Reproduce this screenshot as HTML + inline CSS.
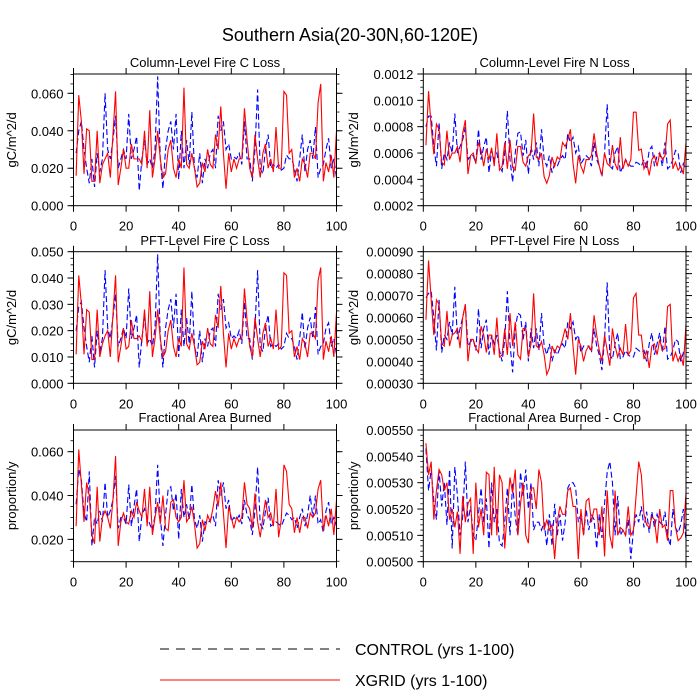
<!DOCTYPE html>
<html><head><meta charset="utf-8"><style>
body{margin:0;background:#fff}
svg{display:block;font-family:"Liberation Sans",sans-serif}
</style></head><body>
<svg id="chart" width="700" height="700" viewBox="0 0 700 700">
<text x="350" y="41" font-size="18" text-anchor="middle">Southern Asia(20-30N,60-120E)</text>
<g>
<line x1="160" y1="649" x2="340" y2="649" stroke="#000" stroke-width="1" stroke-dasharray="9,7"/>
<text x="355" y="655" font-size="16">CONTROL (yrs 1-100)</text>
<line x1="160" y1="680" x2="340" y2="680" stroke="#f00" stroke-width="1"/>
<text x="355" y="686" font-size="16">XGRID (yrs 1-100)</text>
</g>
</svg>
<script>
const years = [1,2,3,4,5,6,7,8,9,10,11,12,13,14,15,16,17,18,19,20,21,22,23,24,25,26,27,28,29,30,31,32,33,34,35,36,37,38,39,40,41,42,43,44,45,46,47,48,49,50,51,52,53,54,55,56,57,58,59,60,61,62,63,64,65,66,67,68,69,70,71,72,73,74,75,76,77,78,79,80,81,82,83,84,85,86,87,88,89,90,91,92,93,94,95,96,97,98,99,100];
const xTicks = [0,20,40,60,80,100];

const colCxgrid = [.016,.059,.045,.017,.041,.040,.013,.013,.040,.012,.022,.025,.028,.015,.038,.061,.011,.020,.030,.020,.020,.033,.025,.025,.025,.022,.040,.020,.051,.015,.025,.040,.025,.015,.017,.030,.035,.020,.015,.025,.020,.063,.022,.020,.028,.020,.010,.012,.023,.018,.030,.022,.020,.038,.030,.053,.028,.009,.028,.018,.025,.020,.025,.025,.052,.035,.020,.015,.038,.025,.015,.028,.033,.020,.025,.018,.042,.020,.020,.061,.059,.028,.030,.015,.020,.013,.025,.022,.015,.028,.028,.025,.055,.065,.013,.023,.018,.027,.015,.040];
const colCcontrol = [.028,.040,.045,.030,.020,.012,.025,.010,.028,.018,.025,.060,.030,.025,.035,.048,.020,.025,.030,.025,.049,.025,.030,.037,.008,.025,.035,.022,.025,.020,.030,.069,.025,.009,.030,.040,.045,.030,.049,.014,.040,.020,.035,.022,.050,.020,.015,.028,.012,.025,.020,.028,.030,.020,.048,.040,.045,.030,.033,.025,.026,.025,.028,.022,.045,.025,.025,.013,.030,.062,.020,.017,.030,.038,.020,.022,.020,.022,.019,.020,.027,.025,.025,.020,.013,.025,.038,.018,.030,.035,.025,.042,.015,.020,.022,.030,.036,.020,.025,.015];
const colNxgrid = [.00066,.00107,.00080,.00059,.00082,.00078,.00053,.00051,.00077,.00055,.00060,.00060,.00065,.00053,.00075,.00085,.00044,.00058,.00060,.00052,.00068,.00062,.00050,.00063,.00055,.00064,.00050,.00075,.00047,.00050,.00068,.00048,.00070,.00049,.00047,.00065,.00065,.00053,.00050,.00058,.00060,.00090,.00057,.00055,.00060,.00042,.00037,.00043,.00057,.00050,.00057,.00055,.00068,.00065,.00070,.00078,.00052,.00037,.00058,.00050,.00045,.00055,.00055,.00058,.00075,.00060,.00050,.00043,.00060,.00052,.00050,.00066,.00052,.00047,.00072,.00048,.00055,.00050,.00055,.00091,.00091,.00062,.00063,.00048,.00053,.00043,.00055,.00058,.00050,.00060,.00055,.00058,.00082,.00085,.00048,.00053,.00047,.00050,.00044,.00068];
const colNcontrol = [.00080,.00088,.00088,.00065,.00050,.00083,.00048,.00060,.00055,.00068,.00060,.00090,.00060,.00065,.00070,.00080,.00055,.00058,.00058,.00052,.00078,.00055,.00065,.00072,.00045,.00062,.00055,.00060,.00050,.00046,.00060,.00092,.00055,.00038,.00060,.00075,.00076,.00058,.00070,.00044,.00065,.00055,.00068,.00050,.00078,.00055,.00050,.00058,.00045,.00052,.00050,.00055,.00058,.00055,.00075,.00068,.00072,.00060,.00065,.00052,.00055,.00058,.00056,.00050,.00068,.00055,.00050,.00042,.00060,.00097,.00050,.00048,.00060,.00065,.00045,.00050,.00055,.00052,.00050,.00050,.00053,.00052,.00050,.00055,.00048,.00062,.00065,.00050,.00058,.00060,.00050,.00068,.00048,.00050,.00055,.00062,.00060,.00045,.00052,.00048];
const pftCxgrid = [.011,.041,.030,.011,.028,.027,.009,.009,.028,.010,.015,.018,.020,.010,.026,.041,.008,.014,.021,.013,.014,.024,.017,.017,.018,.016,.028,.014,.035,.010,.017,.028,.017,.010,.012,.020,.024,.014,.010,.017,.014,.044,.015,.013,.019,.014,.007,.008,.016,.013,.021,.015,.014,.026,.021,.037,.019,.006,.019,.013,.017,.014,.017,.017,.036,.024,.014,.010,.025,.017,.010,.019,.023,.014,.017,.013,.028,.013,.014,.042,.041,.019,.020,.010,.014,.009,.017,.015,.010,.019,.019,.017,.039,.044,.009,.016,.012,.018,.010,.027];
const pftCcontrol = [.020,.029,.031,.021,.014,.008,.018,.006,.020,.012,.017,.043,.021,.017,.025,.034,.014,.017,.021,.017,.036,.017,.021,.026,.006,.017,.025,.015,.017,.014,.021,.049,.017,.006,.021,.028,.032,.021,.034,.010,.028,.014,.025,.015,.035,.014,.010,.020,.008,.017,.014,.020,.021,.014,.034,.028,.032,.021,.023,.017,.018,.017,.020,.015,.031,.017,.017,.009,.021,.043,.014,.012,.021,.026,.014,.015,.014,.015,.013,.014,.019,.017,.017,.014,.009,.017,.027,.013,.021,.025,.017,.029,.011,.014,.015,.021,.023,.014,.017,.011];
const pftNxgrid = [.00059,.00086,.00068,.00052,.00068,.00066,.00048,.00047,.00063,.00047,.00052,.00053,.00055,.00046,.00060,.00066,.00040,.00050,.00050,.00046,.00044,.00056,.00052,.00044,.00052,.00052,.00043,.00060,.00042,.00043,.00055,.00043,.00062,.00047,.00058,.00043,.00041,.00055,.00055,.00042,.00048,.00071,.00047,.00046,.00049,.00043,.00034,.00037,.00047,.00044,.00047,.00046,.00050,.00055,.00050,.00062,.00047,.00034,.00050,.00047,.00040,.00045,.00047,.00045,.00061,.00052,.00045,.00040,.00052,.00045,.00038,.00055,.00047,.00042,.00046,.00043,.00057,.00043,.00045,.00069,.00071,.00052,.00052,.00041,.00045,.00037,.00047,.00048,.00043,.00050,.00045,.00046,.00065,.00066,.00040,.00044,.00040,.00043,.00038,.00057];
const pftNcontrol = [.00069,.00071,.00072,.00060,.00045,.00068,.00044,.00052,.00050,.00058,.00052,.00074,.00050,.00055,.00060,.00066,.00047,.00049,.00050,.00045,.00064,.00046,.00055,.00059,.00043,.00052,.00048,.00052,.00045,.00040,.00050,.00072,.00048,.00035,.00055,.00062,.00061,.00050,.00058,.00040,.00055,.00046,.00055,.00045,.00062,.00047,.00043,.00048,.00040,.00045,.00043,.00046,.00048,.00046,.00058,.00055,.00058,.00050,.00052,.00044,.00047,.00047,.00047,.00044,.00055,.00047,.00043,.00036,.00050,.00076,.00043,.00041,.00048,.00053,.00041,.00042,.00045,.00043,.00042,.00042,.00046,.00045,.00044,.00045,.00040,.00048,.00053,.00043,.00048,.00053,.00044,.00056,.00041,.00042,.00045,.00050,.00049,.00040,.00044,.00042];
const areaXgrid = [.026,.061,.045,.028,.046,.040,.022,.018,.044,.019,.030,.033,.030,.025,.038,.058,.017,.028,.032,.028,.027,.033,.030,.037,.033,.030,.043,.026,.044,.022,.030,.037,.027,.040,.025,.024,.037,.038,.030,.028,.030,.047,.028,.030,.035,.027,.016,.018,.029,.024,.031,.028,.034,.042,.035,.046,.032,.016,.035,.030,.025,.030,.028,.030,.046,.036,.034,.025,.041,.028,.021,.030,.038,.030,.032,.026,.043,.021,.029,.054,.051,.036,.034,.023,.030,.023,.030,.030,.025,.032,.030,.032,.043,.047,.024,.031,.026,.034,.022,.038];
const areaControl = [.036,.052,.047,.032,.028,.051,.017,.030,.027,.033,.028,.046,.030,.033,.038,.049,.025,.030,.030,.027,.045,.026,.035,.043,.019,.031,.034,.030,.027,.024,.031,.054,.030,.017,.031,.043,.044,.033,.041,.020,.043,.030,.036,.029,.045,.029,.025,.031,.019,.028,.027,.029,.031,.026,.047,.040,.046,.034,.038,.028,.030,.029,.031,.027,.038,.031,.029,.022,.033,.053,.027,.025,.033,.039,.026,.027,.028,.027,.026,.029,.032,.031,.029,.030,.025,.030,.034,.026,.031,.040,.030,.040,.027,.029,.023,.033,.037,.027,.030,.026];
const cropXgrid = [.00545,.00533,.00538,.00516,.00527,.00535,.00533,.00527,.00530,.00516,.00520,.00513,.00519,.00503,.00525,.00515,.00522,.00524,.00503,.00530,.00513,.00520,.00510,.00534,.00533,.00510,.00536,.00510,.00533,.00530,.00505,.00520,.00532,.00526,.00535,.00510,.00522,.00530,.00510,.00507,.00528,.00528,.00520,.00535,.00530,.00512,.00516,.00512,.00514,.00501,.00515,.00521,.00518,.00518,.00527,.00528,.00521,.00521,.00501,.00520,.00510,.00523,.00524,.00515,.00520,.00520,.00510,.00521,.00502,.00527,.00510,.00505,.00527,.00510,.00513,.00512,.00510,.00521,.00510,.00512,.00525,.00538,.00533,.00518,.00514,.00513,.00517,.00516,.00507,.00520,.00513,.00514,.00508,.00527,.00527,.00513,.00508,.00509,.00511,.00526];
const cropControl = [.00543,.00527,.00535,.00523,.00516,.00535,.00521,.00530,.00514,.00535,.00505,.00536,.00525,.00510,.00517,.00538,.00515,.00521,.00510,.00508,.00518,.00528,.00515,.00524,.00505,.00530,.00515,.00520,.00507,.00506,.00515,.00528,.00510,.00530,.00517,.00510,.00534,.00525,.00535,.00520,.00530,.00512,.00515,.00515,.00512,.00515,.00506,.00518,.00506,.00522,.00510,.00518,.00508,.00515,.00528,.00530,.00530,.00528,.00515,.00518,.00510,.00520,.00512,.00518,.00516,.00505,.00518,.00509,.00522,.00534,.00538,.00530,.00510,.00525,.00510,.00512,.00510,.00516,.00501,.00512,.00518,.00515,.00521,.00513,.00519,.00511,.00519,.00513,.00518,.00515,.00514,.00519,.00510,.00506,.00520,.00513,.00511,.00514,.00520,.00508];

const yTicksColC = [0,0.02,0.04,0.06];
const yTicksColN = [0.0002,0.0004,0.0006,0.0008,0.0010,0.0012];
const yTicksPftC = [0,0.01,0.02,0.03,0.04,0.05];
const yTicksPftN = [0.0003,0.0004,0.0005,0.0006,0.0007,0.0008,0.0009];
const yTicksArea = [0.02,0.04,0.06];
const yTicksCrop = [0.005,0.0051,0.0052,0.0053,0.0054,0.0055];

const NS = "http://www.w3.org/2000/svg";
const svg = document.getElementById('chart');
function mk(tag, attrs, parent){const e=document.createElementNS(NS,tag);for(const k in attrs)e.setAttribute(k,attrs[k]);parent.appendChild(e);return e;}

const panels = [
 {name:'column-c-loss',title:'Column-Level Fire C Loss',yt:'gC/m^2/d',x0:73.5,x1:336.5,y0:74,y1:205.7,ymin:0,ymax:0.0703,ticks:yTicksColC,minor:0.005,dec:3,ctl:colCcontrol,xg:colCxgrid,titleY:67,ytX:16},
 {name:'column-n-loss',title:'Column-Level Fire N Loss',yt:'gN/m^2/d',x0:423.3,x1:686,y0:74,y1:205.7,ymin:0.0002,ymax:0.0012,ticks:yTicksColN,minor:0.00005,dec:4,ctl:colNcontrol,xg:colNxgrid,titleY:67,ytX:358},
 {name:'pft-c-loss',title:'PFT-Level Fire C Loss',yt:'gC/m^2/d',x0:73.5,x1:336.5,y0:251.7,y1:383.3,ymin:0,ymax:0.05,ticks:yTicksPftC,minor:0.0025,dec:3,ctl:pftCcontrol,xg:pftCxgrid,titleY:245,ytX:16},
 {name:'pft-n-loss',title:'PFT-Level Fire N Loss',yt:'gN/m^2/d',x0:423.3,x1:686,y0:251.7,y1:383.3,ymin:0.0003,ymax:0.0009,ticks:yTicksPftN,minor:0.00002,dec:5,ctl:pftNcontrol,xg:pftNxgrid,titleY:245,ytX:358},
 {name:'fractional-area-burned',title:'Fractional Area Burned',yt:'proportion/y',x0:73.5,x1:336.5,y0:430,y1:561.7,ymin:0.0098,ymax:0.0699,ticks:yTicksArea,minor:0.005,dec:3,ctl:areaControl,xg:areaXgrid,titleY:422,ytX:16},
 {name:'fractional-area-burned-crop',title:'Fractional Area Burned - Crop',yt:'proportion/y',x0:423.3,x1:686,y0:430,y1:561.7,ymin:0.005,ymax:0.0055,ticks:yTicksCrop,minor:0.00002,dec:5,ctl:cropControl,xg:cropXgrid,titleY:422,ytX:358}
];

panels.forEach(p=>{
 const g = mk('g',{},svg);
 
 
 const sx = v => p.x0 + (v-0)/(100-0)*(p.x1-p.x0);
 const sy = v => p.y1 - (v-p.ymin)/(p.ymax-p.ymin)*(p.y1-p.y0);
 // series
 const mkPath = arr => arr.map((v,i)=>(i?'L':'M')+sx(years[i]).toFixed(2)+','+sy(v).toFixed(2)).join('');
 const c = mk('path',{d:mkPath(p.ctl),fill:'none',stroke:'#0000ff','stroke-width':1.1,'stroke-dasharray':'6,3'},g);
 
 
 const r = mk('path',{d:mkPath(p.xg),fill:'none',stroke:'#ff0000','stroke-width':1.1},g);
 
 
 // frame
 const fr = mk('rect',{x:p.x0,y:p.y0,width:p.x1-p.x0,height:p.y1-p.y0,fill:'none',stroke:'#000','stroke-width':1},g);
 
 
 // x ticks
 xTicks.forEach(t=>{
  const x=sx(t);
  mk('line',{x1:x,x2:x,y1:p.y1,y2:p.y1+6,stroke:'#000'},g);
  mk('line',{x1:x,x2:x,y1:p.y0,y2:p.y0-6,stroke:'#000'},g);
  const tl = mk('text',{x:x,y:p.y1+25,'font-size':13,'text-anchor':'middle'},g);
  tl.textContent = t;
  
  
 });
 // y minor ticks
 const n = Math.round((p.ymax-p.ymin)/p.minor)+2;
 const start = Math.ceil(p.ymin/p.minor-1e-6);
 for(let k=start;k*p.minor<=p.ymax+1e-12;k++){
  const y=sy(k*p.minor);
  mk('line',{x1:p.x0-3,x2:p.x0,y1:y,y2:y,stroke:'#000','stroke-width':0.8},g);
  mk('line',{x1:p.x1,x2:p.x1+3,y1:y,y2:y,stroke:'#000','stroke-width':0.8},g);
 }
 p.ticks.forEach(t=>{
  const y=sy(t);
  mk('line',{x1:p.x0-6,x2:p.x0,y1:y,y2:y,stroke:'#000'},g);
  mk('line',{x1:p.x1,x2:p.x1+6,y1:y,y2:y,stroke:'#000'},g);
  const tl = mk('text',{x:p.x0-10,y:y+5,'font-size':13,'text-anchor':'end'},g);
  tl.textContent = t.toFixed(p.dec);
  
  
 });
 const tt = mk('text',{x:(p.x0+p.x1)/2,y:p.titleY,'font-size':13,'text-anchor':'middle'},g);
 tt.textContent = p.title;
 
 
 const yc=(p.y0+p.y1)/2;
 const yt = mk('text',{x:p.ytX,y:yc,'font-size':13,'text-anchor':'middle',transform:'rotate(-90 '+p.ytX+' '+yc+')'},g);
 yt.textContent = p.yt;
 
 
});
</script>
</body></html>
